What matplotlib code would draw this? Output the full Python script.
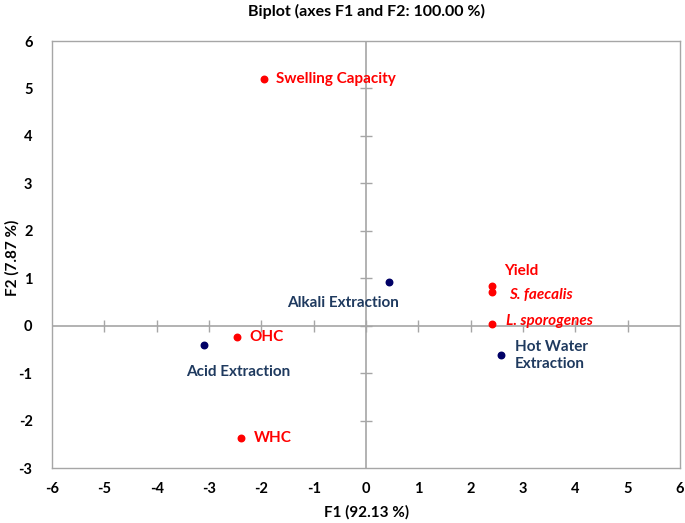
import matplotlib
matplotlib.use('Agg')
import matplotlib.pyplot as plt
import numpy as np

plt.rcParams['font.family'] = ['Lato', 'DejaVu Sans']
plt.rcParams['axes.unicode_minus'] = False

# variables (red) and observations (navy)
var_names = ['Swelling Capacity', 'Yield', 'S. faecalis', 'L. sporogenes', 'OHC', 'WHC']
var_f1 = [-1.95, 2.40, 2.40, 2.40, -2.46, -2.39]
var_f2 = [5.19, 0.84, 0.70, 0.04, -0.23, -2.36]

obs_names = ['Alkali Extraction', 'Hot Water\nExtraction', 'Acid Extraction']
obs_f1 = [0.43, 2.58, -3.09]
obs_f2 = [0.93, -0.61, -0.40]

x_ticks = list(range(-6, 7))
y_ticks = list(range(-3, 7))

red = '#FF0000'
navy = '#000066'
navy_text = '#1F3A5F'
grey = '#A6A6A6'

fig = plt.figure(figsize=(6.85, 5.23), dpi=100)
ax = fig.add_axes([52 / 685, 1 - 468 / 523, 628 / 685, 427 / 523])

ax.set_xlim(-6, 6)
ax.set_ylim(-3, 6)
ax.set_xticks(x_ticks)
ax.set_yticks(y_ticks)
ax.tick_params(length=0, labelsize=10.5, colors='black')
ax.tick_params(axis='x', pad=10)
ax.tick_params(axis='y', pad=14)
for lab in ax.get_xticklabels() + ax.get_yticklabels():
    lab.set_fontweight('bold')
for sp in ax.spines.values():
    sp.set_color(grey)
    sp.set_linewidth(1)

# central axes with tick marks
ax.axhline(0, color=grey, lw=1.2, zorder=1)
ax.axvline(0, color=grey, lw=1.2, zorder=1)
ax.plot(x_ticks[1:-1], [0] * len(x_ticks[1:-1]), ls='none', marker='|',
        ms=9, mew=1, color=grey, zorder=1)
ax.plot([0] * len(y_ticks[1:-1]), y_ticks[1:-1], ls='none', marker='_',
        ms=9, mew=1, color=grey, zorder=1)

ax.scatter(var_f1, var_f2, s=22, color=red, zorder=3)
ax.scatter(obs_f1, obs_f2, s=22, color=navy, zorder=3)

var_offsets = [(12, 0), (13, 15), (17, -3), (14, 3), (12, 0), (13, 0)]
for name, x, y, off in zip(var_names, var_f1, var_f2, var_offsets):
    style = 'italic' if '.' in name else 'normal'
    ax.annotate(name, (x, y), xytext=off, textcoords='offset pixels',
                ha='left', va='center', color=red, fontsize=11,
                fontweight='bold', fontstyle=style)

obs_offsets = [(-101, -21), (14, -1), (-18, -27)]
for name, x, y, off in zip(obs_names, obs_f1, obs_f2, obs_offsets):
    ax.annotate(name, (x, y), xytext=off, textcoords='offset pixels',
                ha='left', va='center', color=navy_text, fontsize=11,
                fontweight='bold', linespacing=1.3)

fig.text(367 / 685, 1 - 512 / 523, 'F1 (92.13 %)', ha='center', va='center',
         fontsize=11, fontweight='bold')
fig.text(12 / 685, 1 - 258 / 523, 'F2 (7.87 %)', ha='center', va='center',
         rotation=90, fontsize=11, fontweight='bold')
fig.text(367 / 685, 1 - 11 / 523, 'Biplot (axes F1 and F2: 100.00 %)',
         ha='center', va='center', fontsize=11.5, fontweight='bold')

fig.savefig('out.png', dpi=100)
